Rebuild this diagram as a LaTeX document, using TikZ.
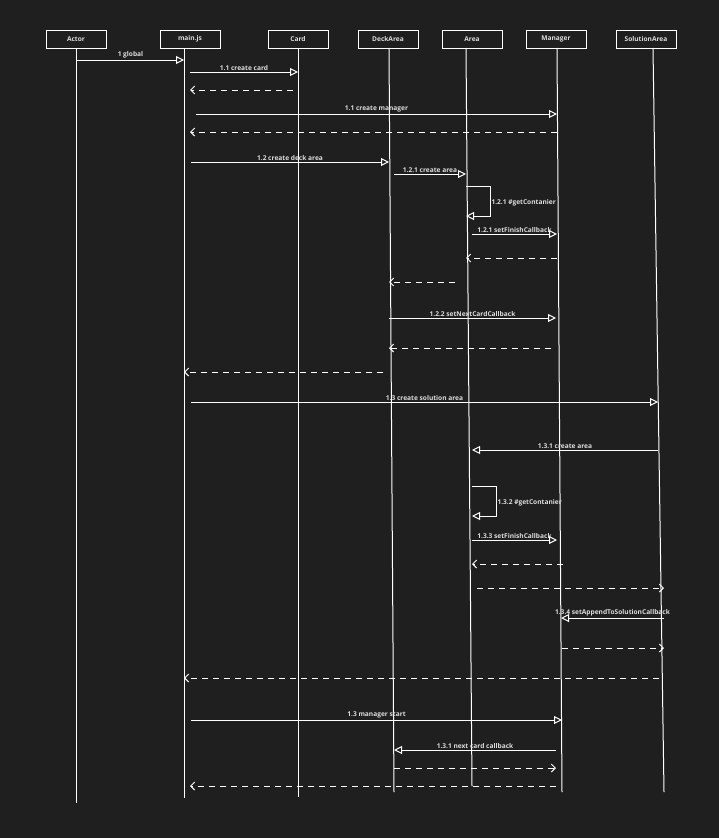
\documentclass[tikz,border=0pt]{standalone}
\usepackage{fontspec}
\setmainfont{Open Sans}
\usetikzlibrary{arrows.meta}
\definecolor{bgcol}{HTML}{1F1F1F}
\definecolor{txtcol}{HTML}{DDDDDD}
\tikzset{every path/.style={white,line width=1pt},
  head/.style={draw=white,minimum width=60pt,minimum height=18pt,inner sep=0pt,text=txtcol,font=\fontsize{6.6}{7}\selectfont\bfseries},
  lbl/.style={text=txtcol,inner sep=1pt,font=\fontsize{6.6}{7}\selectfont\bfseries},
  call/.style={-{Triangle[open,length=8pt,width=8pt]}},
  ret/.style={dash pattern=on 6pt off 5pt,-{Straight Barb[length=4pt,width=8pt]}}}

\begin{document}
\begin{tikzpicture}[x=1pt,y=-1pt]
   \fill[bgcol] (0,0) rectangle (719,838);
   % participants
   \node[head] (actor)   at (76,39)  {Actor};
   \node[head] (mainjs)  at (190,39) {main.js};
   \node[head] (card)    at (298,39) {Card};
   \node[head] (deck)    at (388,39) {DeckArea};
   \node[head] (area)    at (472,39) {Area};
   \node[head] (manager) at (556,39) {Manager};
   \node[head] (sol)     at (646,39) {SolutionArea};
   % lifelines
   \draw (76,48) -- (76,803);
   \draw (184,48) -- (184,798);
   \draw (298,48) -- (298,797);
   \draw (389,48) -- (394,792);
   \draw (466,48) -- (472,786);
   \draw (557,48) -- (562,792);
   \draw (653,48) -- (664,792);
   % deck area setup
   \draw[call] (77,60) -- node[lbl,above] (m1) {1 global} (184,60);
   \draw[call] (190,72) -- node[lbl,above] (m2) {1.1 create card} (298,72);
   \draw[ret] (293,90) -- (190,90);
   \draw[call] (196,114) -- node[lbl,above] (m3) {1.1 create manager} (557,114);
   \draw[ret] (557,132) -- (190,132);
   \draw[call] (191,162) -- node[lbl,above] (m4) {1.2 create deck area} (389,162);
   \draw[call] (394,174) -- node[lbl,above] (m5) {1.2.1 create area} (466,174);
   \draw[call] (466,186) -- (490,186) -- node[lbl,right,yshift=-2pt] (m6) {1.2.1 \#getContanier} (490,216) -- (466,216);
   \draw[call] (472,234) -- node[lbl,above] (m7) {1.2.1 setFinishCallback} (557,234);
   \draw[ret] (557,258) -- (466,258);
   \draw[ret] (455,282) -- (389,282);
   \draw[call] (389,318) -- node[lbl,above] (m8) {1.2.2 setNextCardCallback} (556,318);
   \draw[ret] (551,348) -- (389,348);
   \draw[ret] (383,372) -- (184,372);
   % solution area setup
   \draw[call] (191,402) -- node[lbl,above] (m9) {1.3 create solution area} (658,402);
   \draw[call] (658,450) -- node[lbl,above] (m10) {1.3.1 create area} (472,450);
   \draw[call] (472,486) -- (496,486) -- node[lbl,right,yshift=-2pt] (m11) {1.3.2 \#getContanier} (496,516) -- (472,516);
   \draw[call] (472,540) -- node[lbl,above] (m12) {1.3.3 setFinishCallback} (557,540);
   \draw[ret] (563,564) -- (472,564);
   \draw[ret] (477,588) -- (664,588);
   \draw[call] (664,618) -- node[lbl,above] (m13) {1.3.4 setAppendToSolutionCallback} (561,618);
   \draw[ret] (562,648) -- (664,648);
   \draw[ret] (659,678) -- (184,678);
   % start
   \draw[call] (191,720) -- node[lbl,above] (m14) {1.3 manager start} (562,720);
   \draw[call] (556,750) -- node[lbl,above] (m15) {1.3.1 next card callback} (394,750);
   \draw[ret] (394,768) -- (556,768);
   \draw[ret] (556,786) -- (190,786);
\end{tikzpicture}
\end{document}
